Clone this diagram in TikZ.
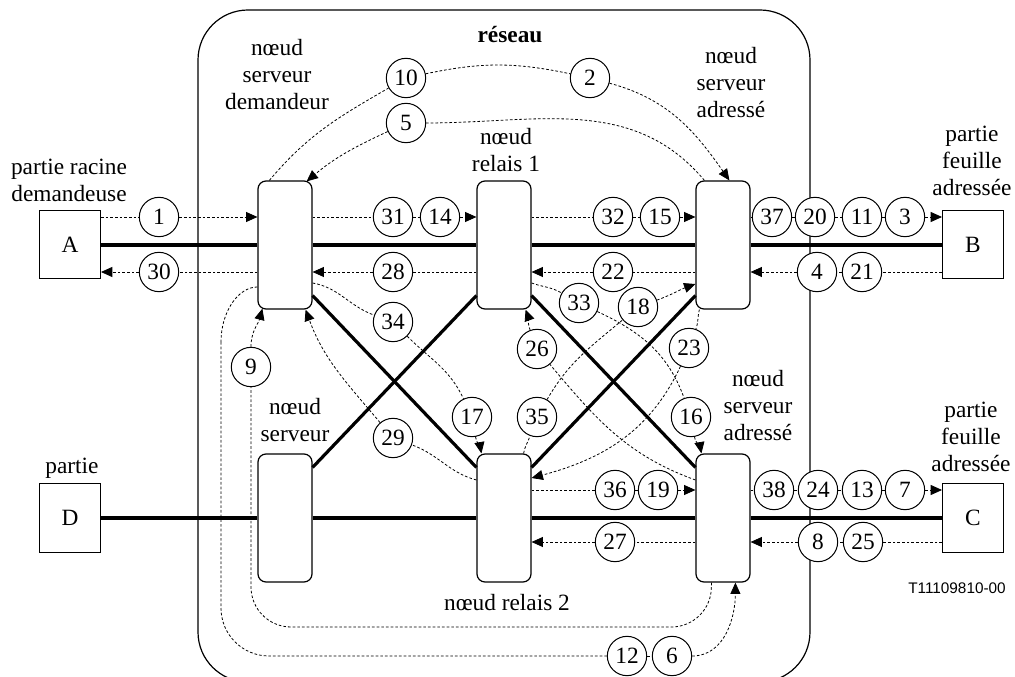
\documentclass[tikz,border=0pt]{standalone}
\usepackage{fontspec}
\setmainfont{Liberation Serif}
\newfontfamily\sansf{Liberation Sans}
\usetikzlibrary{arrows.meta,calc}
\begin{document}
\begin{tikzpicture}[x=0.75pt,y=-0.75pt,
  txt/.style={font=\fontsize{17.5}{20.25}\selectfont, align=center, inner sep=0pt},
  srv/.style={draw, line width=0.9pt, rounded corners=6pt, minimum width=40.5pt, minimum height=96pt, inner sep=0pt},
  party/.style={draw, line width=0.75pt, minimum width=45.75pt, minimum height=51pt, inner sep=0pt, font=\fontsize{17.5}{20}\selectfont},
  num/.style={draw, circle, fill=white, line width=0.75pt, minimum size=29.5pt, inner sep=0pt, font=\fontsize{17.5}{20}\selectfont},
  trunk/.style={line width=2.4pt},
  dl/.style={dash pattern=on 2pt off 1.5pt, line width=0.6pt},
  dla/.style={dl, -{Triangle[length=8.5pt,width=7.5pt]}},
]
\useasboundingbox (0,0) rectangle (1015,677);
% network boundary
\draw[line width=0.9pt, rounded corners=37.5pt] (198,10) rectangle (810,682);

% parties and nodes
\node[party] (A) at (70,245) {A};
\node[party] (B) at (973,245) {B};
\node[party] (C) at (973,518) {C};
\node[party] (D) at (70,518) {D};
\node[srv] (dem) at (285,245) {};
\node[srv] (r1) at (504,245) {};
\node[srv] (ad1) at (723,245) {};
\node[srv] (sv) at (285,518) {};
\node[srv] (r2) at (504,518) {};
\node[srv] (ad2) at (723,518) {};

% trunks
\draw[trunk] (A) -- (dem);
\draw[trunk] (dem) -- (r1);
\draw[trunk] (r1) -- (ad1);
\draw[trunk] (ad1) -- (B);
\draw[trunk] (D) -- (sv);
\draw[trunk] (sv) -- (r2);
\draw[trunk] (r2) -- (ad2);
\draw[trunk] (ad2) -- (C);
\draw[trunk] ($(dem.south east)+(0,-14)$) -- ($(r2.north west)+(0,14)$);
\draw[trunk] ($(sv.north east)+(0,14)$) -- ($(r1.south west)+(0,-14)$);
\draw[trunk] ($(r1.south east)+(0,-14)$) -- ($(ad2.north west)+(0,14)$);
\draw[trunk] ($(r2.north east)+(0,14)$) -- ($(ad1.south west)+(0,-14)$);

% labels
\node[txt] (lA) at (69,180) {partie racine\\demandeuse};
\node[txt] (ldem) at (277,75) {nœud\\serveur\\demandeur};
\node[txt, font=\fontsize{17.5}{20.25}\selectfont\bfseries] (lnet) at (510,35) {réseau};
\node[txt] (lr1) at (506,150) {nœud\\relais 1};
\node[txt] (lad1) at (731,83) {nœud\\serveur\\adressé};
\node[txt] (lB) at (972,161) {partie\\feuille\\adressée};
\node[txt] (lD) at (72,468) {partie};
\node[txt] (lsv) at (295,420) {nœud\\serveur};
\node[txt] (lr2) at (507,603) {nœud relais 2};
\node[txt] (lad2) at (758,406) {nœud\\serveur\\adressé};
\node[txt] (lC) at (971,437) {partie\\feuille\\adressée};
\node[font=\sansf\fontsize{11.5}{13}\selectfont, inner sep=0pt] (ref) at (957,588) {T11109810-00};

% numbered circles
\foreach \n/\x/\y in {1/159/217, 31/393/217, 14/440/217, 32/613/217, 15/660/217,
  37/772/217, 20/815/217, 11/862/217, 3/905/217,
  30/159/272, 28/393/272, 22/613/272, 4/817/272, 21/862/272,
  36/615/490, 19/658/490, 38/774/490, 24/818/490, 13/862/490, 7/905/490,
  27/615/542, 8/818/542, 25/863/542,
  10/406/78, 2/590/78, 5/406/123, 34/393/322, 33/579/303, 18/638/307,
  26/537/349, 23/689/348, 9/251/367, 17/472/417, 29/393/438, 35/537/417,
  16/691/417, 12/627/656, 6/672/656}
  \node[num] (c\n) at (\x,\y) {\n};

% straight message flows
\draw[dla] (A.east |- c1) -- (c1) -- (dem.west |- c1);
\draw[dla] (dem.east |- c31) -- (c31) -- (c14) -- (r1.west |- c14);
\draw[dla] (r1.east |- c32) -- (c32) -- (c15) -- (ad1.west |- c15);
\draw[dla] (ad1.east |- c37) -- (c37) -- (c20) -- (c11) -- (c3) -- (B.west |- c3);
\draw[dla] (B.west |- c21) -- (c21) -- (c4) -- (ad1.east |- c4);
\draw[dla] (ad1.west |- c22) -- (c22) -- (r1.east |- c22);
\draw[dla] (r1.west |- c28) -- (c28) -- (dem.east |- c28);
\draw[dla] (dem.west |- c30) -- (c30) -- (A.east |- c30);
\draw[dla] (r2.east |- c36) -- (c36) -- (c19) -- (ad2.west |- c19);
\draw[dla] (ad2.east |- c38) -- (c38) -- (c24) -- (c13) -- (c7) -- (C.west |- c7);
\draw[dla] (C.west |- c25) -- (c25) -- (c8) -- (ad2.east |- c8);
\draw[dla] (ad2.west |- c27) -- (c27) -- (r2.east |- c27);

% end points of curved flows
\coordinate (s10) at ($(dem.north west)+(12,0)$);
\coordinate (e2) at ($(ad1.north west)+(34,0)$);
\coordinate (s5) at ($(ad1.north west)+(9,0)$);
\coordinate (e5) at ($(dem.north east)+(-6,1)$);
\coordinate (s9) at ($(ad2.south west)+(16,0)$);
\coordinate (k9) at (251,627);
\coordinate (e9) at ($(dem.south west)+(5,-1)$);
\coordinate (s12) at ($(dem.west)+(0,42)$);
\coordinate (q12a) at (238,287);
\coordinate (q12b) at (221,312);
\coordinate (q12) at (221,342);
\coordinate (k12) at (221,656);
\coordinate (e6) at ($(ad2.south west)+(40,0)$);
\coordinate (s34) at ($(dem.east)+(0,38)$);
\coordinate (e17) at ($(r2.north west)+(5,0)$);
\coordinate (s29) at ($(r2.west)+(0,-38)$);
\coordinate (e29) at ($(dem.south east)+(-7,0)$);
\coordinate (s33) at ($(r1.east)+(0,38)$);
\coordinate (e16) at ($(ad2.north west)+(6,0)$);
\coordinate (s26) at ($(ad2.west)+(0,-38)$);
\coordinate (e26) at ($(r1.south east)+(-6,0)$);
\coordinate (s35) at ($(r2.north east)+(-8,0)$);
\coordinate (e18) at ($(ad1.west)+(0,39)$);
\coordinate (s23) at ($(ad1.south west)+(4,0)$);
\coordinate (e23) at ($(r2.east)+(0,-40)$);

% curved flows
\draw[dla] (s10) to[out=50,in=210] (c10) to[out=12,in=168] (c2) to[out=-15,in=125] (e2);
\draw[dla] (s5) to[out=130,in=0] (c5) to[out=205,in=40] (e5);
\draw[dl, rounded corners=30pt] (s9) |- (k9) -- (c9);
\draw[dla] (c9) to[out=90,in=255] (e9);
\draw[dl] (s12) .. controls (q12a) and (q12b) .. (q12);
\draw[dl, rounded corners=36pt] (q12) -- (k12) -- (c12);
\draw[dl] (c12) -- (c6);
\draw[dla] (c6) to[out=0,in=-90] (e6);
\draw[dla] (s34) to[out=-10,in=160] (c34) to[out=-45,in=115] (c17) to[out=-80,in=100] (e17);
\draw[dla] (s29) to[out=165,in=-20] (c29) to[out=130,in=-70] (e29);
\draw[dla] (s33) to[out=-20,in=150] (c33) to[out=-25,in=110] (c16) to[out=-80,in=100] (e16);
\draw[dla] (s26) to[out=160,in=-50] (c26) to[out=110,in=-70] (e26);
\draw[dla] (s35) to[out=80,in=-110] (c35) to[out=60,in=-140] (c18) to[out=20,in=200] (e18);
\draw[dla] (s23) to[out=-105,in=70] (c23) to[out=-115,in=15] (e23);
\end{tikzpicture}
\end{document}
